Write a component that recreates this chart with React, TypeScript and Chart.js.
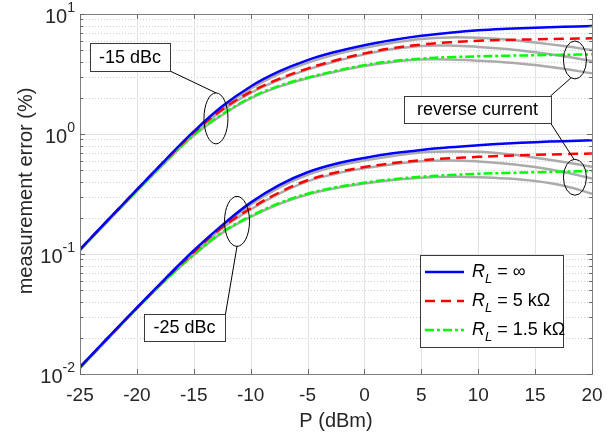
import { useEffect, useRef } from "react";
import { Chart, registerables } from "chart.js";

Chart.register(...registerables);

// ---- data ----
const P_DBM = [-25, -22.5, -20, -17.5, -15, -12.5, -10, -7.5, -5, -2.5, 0, 2.5, 5, 7.5, 10, 12.5, 15, 17.5, 20];

// -15 dBc group
const UP_INF = [0.109, 0.194, 0.344, 0.607, 1.05, 1.7, 2.49, 3.32, 4.13, 4.85, 5.5, 6.07, 6.58, 6.98, 7.31, 7.52, 7.67, 7.82, 7.93];
const UP_5K = [0.109, 0.194, 0.344, 0.603, 1.03, 1.6, 2.24, 2.88, 3.51, 4.12, 4.7, 5.2, 5.56, 5.81, 5.98, 6.08, 6.15, 6.21, 6.27];
const UP_1K5 = [0.108, 0.192, 0.338, 0.585, 0.984, 1.46, 2.01, 2.52, 2.95, 3.36, 3.75, 4.05, 4.25, 4.37, 4.44, 4.49, 4.53, 4.57, 4.61];
const UP_REV_INF = [0.107, 0.191, 0.339, 0.597, 1.03, 1.65, 2.39, 3.17, 3.92, 4.61, 5.22, 5.77, 6.2, 6.38, 6.33, 6.12, 5.78, 5.4, 5.0];
const UP_REV_5K = [0.108, 0.192, 0.339, 0.593, 1.01, 1.57, 2.2, 2.82, 3.44, 4.04, 4.61, 5.1, 5.42, 5.46, 5.32, 5.1, 4.8, 4.44, 4.05];
const UP_REV_1K5 = [0.107, 0.19, 0.333, 0.577, 0.97, 1.44, 1.98, 2.48, 2.91, 3.31, 3.69, 3.99, 4.17, 4.17, 4.08, 3.95, 3.76, 3.5, 3.2];

// -25 dBc group
const LO_INF = [0.0114, 0.0203, 0.0357, 0.0624, 0.107, 0.174, 0.268, 0.375, 0.48, 0.565, 0.632, 0.69, 0.737, 0.775, 0.806, 0.833, 0.855, 0.872, 0.887];
const LO_5K = [0.0114, 0.0202, 0.0356, 0.0618, 0.104, 0.167, 0.24, 0.325, 0.412, 0.478, 0.53, 0.572, 0.605, 0.628, 0.645, 0.659, 0.67, 0.679, 0.687];
const LO_1K5 = [0.0113, 0.02, 0.0353, 0.0605, 0.099, 0.152, 0.207, 0.265, 0.318, 0.36, 0.393, 0.42, 0.44, 0.455, 0.466, 0.474, 0.48, 0.486, 0.492];
const LO_REV_INF = [0.0112, 0.02, 0.0352, 0.0615, 0.105, 0.169, 0.257, 0.358, 0.456, 0.537, 0.601, 0.656, 0.702, 0.716, 0.71, 0.68, 0.635, 0.585, 0.532];
const LO_REV_5K = [0.0113, 0.02, 0.0352, 0.061, 0.102, 0.164, 0.235, 0.318, 0.403, 0.467, 0.518, 0.56, 0.592, 0.602, 0.59, 0.566, 0.531, 0.482, 0.425];
const LO_REV_1K5 = [0.0112, 0.0198, 0.035, 0.06, 0.098, 0.15, 0.204, 0.261, 0.313, 0.354, 0.387, 0.413, 0.432, 0.44, 0.437, 0.426, 0.405, 0.37, 0.318];

const X_TICKS = [-25, -20, -15, -10, -5, 0, 5, 10, 15, 20];
const Y_TICKS = [0.01, 0.1, 1, 10];
const Y_TICK_EXP = ["-2", "-1", "0", "1"];

const LEGEND_LABELS = ["= \u221E", "= 5 k\u03A9", "= 1.5 k\u03A9"];
const X_TITLE = "P (dBm)";
const Y_TITLE = "measurement error (%)";
const NOTE_15 = "-15 dBc";
const NOTE_25 = "-25 dBc";
const NOTE_REV = "reverse current";

const FONT = "'Liberation Sans', Arial, Helvetica, sans-serif";
const BLUE = "#0000ff";
const RED = "#ff0000";
const GREEN = "#00ff00";
const GRAY = "#ababab";
const DASH_RED = [10, 6];
const DASH_GREEN = [9, 3, 3, 3];

const pts = (ys: number[]) => P_DBM.map((x, i) => ({ x, y: ys[i] }));

const decor = {
  id: "decor",
  beforeDatasetsDraw(chart: any) {
    const { ctx, chartArea: a, scales } = chart;
    const xs = scales.x, ys = scales.y;
    ctx.save();
    ctx.lineWidth = 1;
    ctx.strokeStyle = "#cfcfcf";
    ctx.setLineDash([1, 2]);
    for (let d = -2; d < 1; d++) {
      for (let k = 2; k <= 9; k++) {
        const py = Math.round(ys.getPixelForValue(k * Math.pow(10, d))) + 0.5;
        ctx.beginPath();
        ctx.moveTo(a.left, py);
        ctx.lineTo(a.right, py);
        ctx.stroke();
      }
    }
    ctx.setLineDash([]);
    ctx.strokeStyle = "#e2e2e2";
    X_TICKS.forEach((t) => {
      const px = Math.round(xs.getPixelForValue(t)) + 0.5;
      ctx.beginPath();
      ctx.moveTo(px, a.top);
      ctx.lineTo(px, a.bottom);
      ctx.stroke();
    });
    Y_TICKS.forEach((t) => {
      const py = Math.round(ys.getPixelForValue(t)) + 0.5;
      ctx.beginPath();
      ctx.moveTo(a.left, py);
      ctx.lineTo(a.right, py);
      ctx.stroke();
    });
    ctx.restore();
  },
  afterDatasetsDraw(chart: any) {
    const { ctx, chartArea: a, scales } = chart;
    const xs = scales.x, ys = scales.y;
    ctx.save();
    ctx.strokeStyle = "#808080";
    ctx.lineWidth = 1;
    ctx.strokeRect(Math.round(a.left) + 0.5, Math.round(a.top) + 0.5, Math.round(a.right - a.left), Math.round(a.bottom - a.top));
    ctx.strokeStyle = "#6a6a6a";
    X_TICKS.forEach((t) => {
      const px = Math.round(xs.getPixelForValue(t)) + 0.5;
      ctx.beginPath();
      ctx.moveTo(px, a.bottom);
      ctx.lineTo(px, a.bottom - 5);
      ctx.moveTo(px, a.top);
      ctx.lineTo(px, a.top + 5);
      ctx.stroke();
    });
    for (let d = -2; d <= 1; d++) {
      for (let k = 1; k <= 9; k++) {
        const v = k * Math.pow(10, d);
        if (v > 10.0001) break;
        const py = Math.round(ys.getPixelForValue(v)) + 0.5;
        const len = k === 1 ? 5 : 3;
        ctx.beginPath();
        ctx.moveTo(a.left, py);
        ctx.lineTo(a.left + len, py);
        ctx.moveTo(a.right, py);
        ctx.lineTo(a.right - len, py);
        ctx.stroke();
      }
    }
    ctx.fillStyle = "#262626";
    ctx.textBaseline = "middle";
    ctx.textAlign = "center";
    ctx.font = `19px ${FONT}`;
    X_TICKS.forEach((t) => {
      ctx.fillText(String(t), xs.getPixelForValue(t), a.bottom + 22);
    });
    Y_TICKS.forEach((t, i) => {
      const py = ys.getPixelForValue(t);
      ctx.textAlign = "right";
      ctx.font = `14px ${FONT}`;
      const supW = ctx.measureText(Y_TICK_EXP[i]).width;
      const rx = a.left - 5;
      ctx.fillText(Y_TICK_EXP[i], rx, py - 6);
      ctx.font = `20px ${FONT}`;
      ctx.fillText("10", rx - supW, py + 3);
    });
    ctx.font = `20px ${FONT}`;
    ctx.textAlign = "center";
    ctx.fillText(X_TITLE, (a.left + a.right) / 2, a.bottom + 47);
    ctx.save();
    ctx.translate(26, (a.top + a.bottom) / 2 - 3);
    ctx.rotate(-Math.PI / 2);
    ctx.fillText(Y_TITLE, 0, 0);
    ctx.restore();

    // annotations
    ctx.strokeStyle = "#000";
    ctx.lineWidth = 1;
    const ell = (xv: number, yv: number, rx: number, ry: number) => {
      const cx = xs.getPixelForValue(xv), cy = ys.getPixelForValue(yv);
      ctx.beginPath();
      ctx.ellipse(cx, cy, rx, ry, 0, 0, Math.PI * 2);
      ctx.stroke();
      return { cx, cy };
    };
    const line = (x1: number, y1: number, x2: number, y2: number) => {
      ctx.beginPath();
      ctx.moveTo(x1, y1);
      ctx.lineTo(x2, y2);
      ctx.stroke();
    };
    const box = (txt: string, x: number, y: number, w: number, h: number) => {
      ctx.fillStyle = "#fff";
      ctx.fillRect(x, y, w, h);
      ctx.strokeStyle = "#3a3a3a";
      ctx.strokeRect(x + 0.5, y + 0.5, w, h);
      ctx.fillStyle = "#000";
      ctx.font = `18px ${FONT}`;
      ctx.textAlign = "center";
      ctx.textBaseline = "middle";
      ctx.fillText(txt, x + w / 2, y + h / 2 + 1);
      ctx.strokeStyle = "#000";
    };
    const e1 = ell(-13.05, 1.35, 12, 25.5);
    const e2 = ell(-11.2, 0.187, 12.5, 25);
    const e3 = ell(18.5, 4.14, 11.5, 19);
    const e4 = ell(18.5, 0.436, 11.5, 18);
    line(170, 71, e1.cx, e1.cy - 25.5);
    line(e2.cx, e2.cy + 25, 225.5, 314);
    line(550.5, 96, e3.cx - 4, e3.cy + 18);
    line(550.5, 123, e4.cx - 1, e4.cy - 18);
    box(NOTE_15, 90, 43, 80, 28);
    box(NOTE_25, 144, 314, 81, 27);
    box(NOTE_REV, 404, 96, 147, 27);

    // legend
    const lx = 420, ly = 255, lw = 143, lh = 92;
    ctx.fillStyle = "#fff";
    ctx.fillRect(lx, ly, lw, lh);
    ctx.strokeStyle = "#3a3a3a";
    ctx.lineWidth = 1;
    ctx.strokeRect(lx + 0.5, ly + 0.5, lw, lh);
    const items = [
      { c: BLUE, d: [] as number[] },
      { c: RED, d: DASH_RED },
      { c: GREEN, d: DASH_GREEN },
    ];
    items.forEach((it, i) => {
      const yy = ly + 17 + i * 29;
      ctx.strokeStyle = it.c;
      ctx.lineWidth = 2.5;
      ctx.setLineDash(it.d);
      ctx.beginPath();
      ctx.moveTo(lx + 5, yy);
      ctx.lineTo(lx + 44, yy);
      ctx.stroke();
      ctx.setLineDash([]);
      ctx.fillStyle = "#000";
      ctx.textAlign = "left";
      ctx.textBaseline = "middle";
      let tx = lx + 52;
      ctx.font = `italic 18px ${FONT}`;
      ctx.fillText("R", tx, yy);
      tx += ctx.measureText("R").width;
      ctx.font = `italic 13px ${FONT}`;
      ctx.fillText("L", tx, yy + 7);
      tx += ctx.measureText("L").width + 5;
      ctx.font = `18px ${FONT}`;
      ctx.fillText(LEGEND_LABELS[i], tx, yy);
    });
    ctx.restore();
  },
};

export default function App() {
  const ref = useRef<HTMLCanvasElement>(null);
  useEffect(() => {
    if (!ref.current) return;
    const common = { pointRadius: 0, fill: false, tension: 0.4 };
    const chart = new Chart(ref.current, {
      type: "line",
      data: {
        datasets: [
          { label: "RL inf", data: pts(UP_INF), borderColor: BLUE, borderWidth: 2.5, ...common },
          { label: "RL 5k", data: pts(UP_5K), borderColor: RED, borderWidth: 2.5, borderDash: DASH_RED, ...common },
          { label: "RL 1.5k", data: pts(UP_1K5), borderColor: GREEN, borderWidth: 2.5, borderDash: DASH_GREEN, ...common },
          { label: "RL inf (-25)", data: pts(LO_INF), borderColor: BLUE, borderWidth: 2.5, ...common },
          { label: "RL 5k (-25)", data: pts(LO_5K), borderColor: RED, borderWidth: 2.5, borderDash: DASH_RED, ...common },
          { label: "RL 1.5k (-25)", data: pts(LO_1K5), borderColor: GREEN, borderWidth: 2.5, borderDash: DASH_GREEN, ...common },
          { label: "rev inf", data: pts(UP_REV_INF), borderColor: GRAY, borderWidth: 2.5, ...common },
          { label: "rev 5k", data: pts(UP_REV_5K), borderColor: GRAY, borderWidth: 2.5, ...common },
          { label: "rev 1.5k", data: pts(UP_REV_1K5), borderColor: GRAY, borderWidth: 2.5, ...common },
          { label: "rev inf (-25)", data: pts(LO_REV_INF), borderColor: GRAY, borderWidth: 2.5, ...common },
          { label: "rev 5k (-25)", data: pts(LO_REV_5K), borderColor: GRAY, borderWidth: 2.5, ...common },
          { label: "rev 1.5k (-25)", data: pts(LO_REV_1K5), borderColor: GRAY, borderWidth: 2.5, ...common },
        ],
      },
      options: {
        responsive: false,
        animation: false,
        layout: { padding: { left: 80, right: 21, top: 14, bottom: 63 } },
        plugins: { legend: { display: false }, tooltip: { enabled: false } },
        scales: {
          x: { type: "linear", min: -25, max: 20, display: false },
          y: { type: "logarithmic", min: 0.01, max: 10, display: false },
        },
      },
      plugins: [decor],
    });
    return () => chart.destroy();
  }, []);
  return (
    <div style={{ position: "absolute", left: 0, top: 0, width: 613, height: 437, background: "#fff" }}>
      <canvas ref={ref} width={613} height={437} style={{ width: 613, height: 437, display: "block" }} />
    </div>
  );
}
